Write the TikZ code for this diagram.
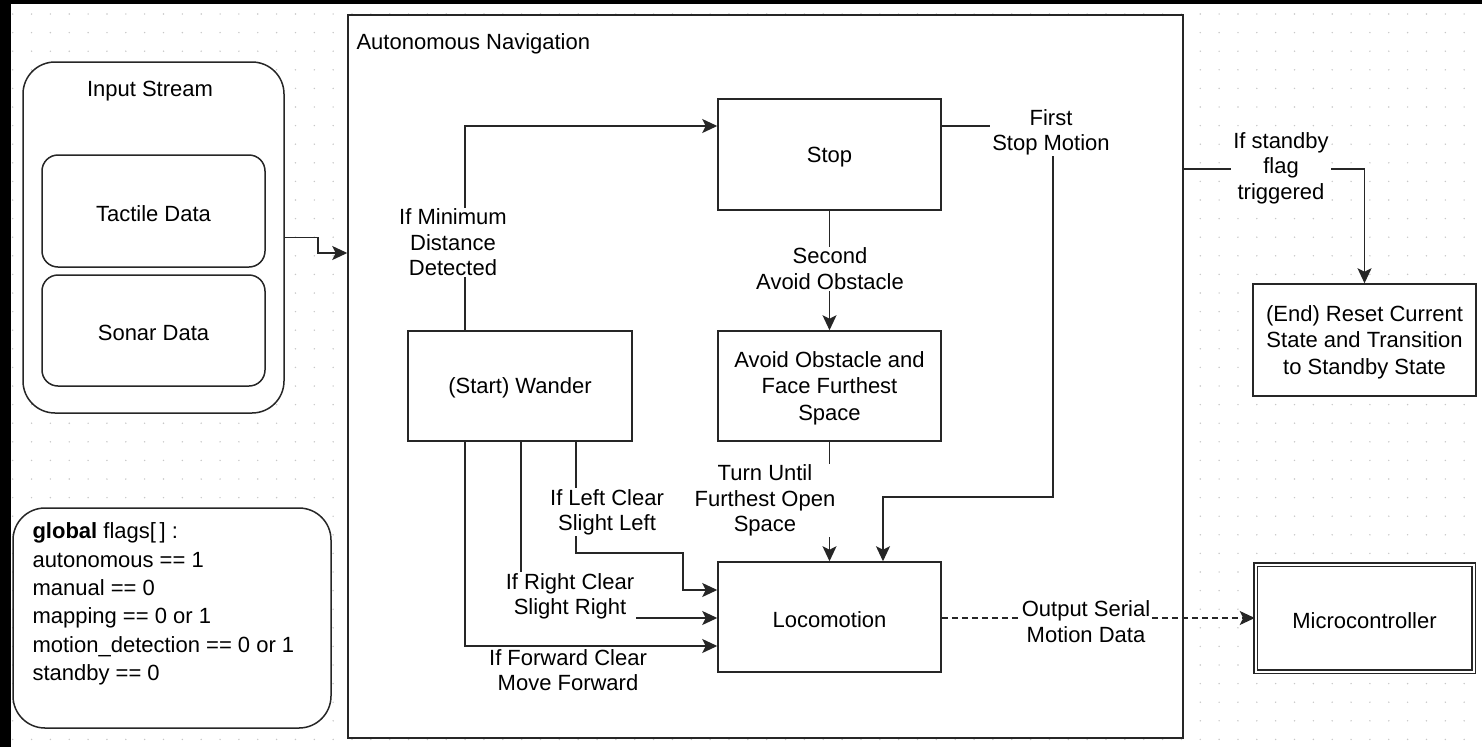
\documentclass[tikz,border=0pt]{standalone}
\usepackage{fontspec}
\setmainfont{Liberation Sans}
\usetikzlibrary{arrows.meta,calc}
\begin{document}
\begin{tikzpicture}[x=1pt,y=-1pt,
  every node/.style={font=\fontsize{22}{25.5}\selectfont, align=center, text=black},
  txt/.style={yshift=-2.2pt},
  ln/.style={draw=black!85, line width=1.5pt},
  box/.style={ln, fill=white, rectangle, inner sep=0pt},
  rbox/.style={box, rounded corners=#1},
  intext/.style={label={[txt, font=\fontsize{22}{26.5}\selectfont]center:#1}},
  arr/.style={ln, -{Stealth[length=15pt,width=14pt,inset=3.5pt]}},
  lbl/.style={txt, fill=white, inner xsep=2pt, inner ysep=1pt},
  dsh/.style={dash pattern=on 6pt off 4pt}]
\useasboundingbox (0,0) rectangle (1482,747);
\fill[black] (0,0) rectangle (1482,747);
\fill[white] (11,4) rectangle (1482,747);
\foreach \i in {0,...,78}{
  \foreach \j in {0,...,39}{
    \fill[black!22] (12.7+18.85*\i, 14+18.6*\j) circle (0.8);
  }
}
% containers
\node[box, minimum width=835pt, minimum height=723pt] (auto) at (765.5,376.5) {};
\node[txt, anchor=west] (autotitle) at (353,42) {Autonomous Navigation};
\node[rbox=32pt, minimum width=261pt, minimum height=351pt] (input) at (153.5,237.5) {};
\node[txt] (inputtitle) at (150,89) {Input Stream};
\node[rbox=16pt, minimum width=223pt, minimum height=112pt, intext={Tactile Data}] (tactile) at (153.5,211) {};
\node[rbox=16pt, minimum width=223pt, minimum height=111pt, intext={Sonar Data}] (sonar) at (153.5,330.5) {};
\node[rbox=32pt, minimum width=318pt, minimum height=220pt] (flags) at (172,618) {};
\node[txt, anchor=north west, align=left, font=\fontsize{22}{28.4}\selectfont] (flagstext) at (29,517)
  {\textbf{global} flags[\,] :\\autonomous == 1\\manual == 0\\mapping == 0 or 1\\motion\_detection == 0 or 1\\standby == 0};
% states
\node[box, minimum width=223pt, minimum height=111pt, intext={Stop}] (stop) at (829.5,154.5) {};
\node[box, minimum width=223pt, minimum height=110pt, intext={Avoid Obstacle and\\Face Furthest\\Space}] (avoid) at (829.5,386) {};
\node[box, minimum width=224pt, minimum height=110pt, intext={(Start) Wander}] (wander) at (520,386) {};
\node[box, minimum width=223pt, minimum height=110pt, intext={Locomotion}] (loco) at (829.5,617) {};
\node[box, minimum width=223pt, minimum height=112pt, intext={(End) Reset Current\\State and Transition\\to Standby State}] (endbox) at (1364.5,340) {};
\node[box, double, double distance=2pt, minimum width=218pt, minimum height=107pt, intext={Microcontroller}] (micro) at (1364.5,618) {};
% connectors
\draw[arr] (input.east) -- ++(33,0) |- (auto.west |- 0,253);
\draw[arr] (465,0 |- wander.north) |- (stop.west |- 0,126);
\node[lbl] (l1) at (453,240) {If Minimum\\Distance\\Detected};
\draw[arr] (stop.south) -- (avoid.north);
\node[lbl] (l2) at (830,266.5) {Second\\Avoid Obstacle};
\coordinate (bend1) at (1053,497);
\draw[arr] (stop.east |- 0,126) -| (bend1) -| (883,0 |- loco.north);
\node[lbl] (l3) at (1051,130) {First\\Stop Motion};
\draw[arr] (avoid.south) -- (loco.north);
\node[lbl] (l4) at (765,498.5) {Turn Until\\Furthest Open\\Space};
\coordinate (bend2) at (683,553);
\draw[arr] (576,0 |- wander.south) |- (bend2) |- (loco.west |- 0,590);
\node[lbl] (l5) at (607,510) {If Left Clear\\Slight Left};
\draw[arr] (521,0 |- wander.south) |- (loco.west |- 0,618);
\node[lbl] (l6) at (570,594) {If Right Clear\\Slight Right};
\draw[arr] (465,0 |- wander.south) |- (loco.west |- 0,646);
\node[lbl] (l7) at (568,668) {If Forward Clear\\Move Forward};
\draw[arr] (auto.east |- 0,169) -| (endbox.north);
\node[lbl] (l8) at (1281,166) {If standby\\flag\\triggered};
\draw[arr, dsh] (loco.east |- 0,618) -- (micro.west);
\node[lbl] (l9) at (1086,619.5) {Output Serial\\Motion Data};
\end{tikzpicture}
\end{document}
